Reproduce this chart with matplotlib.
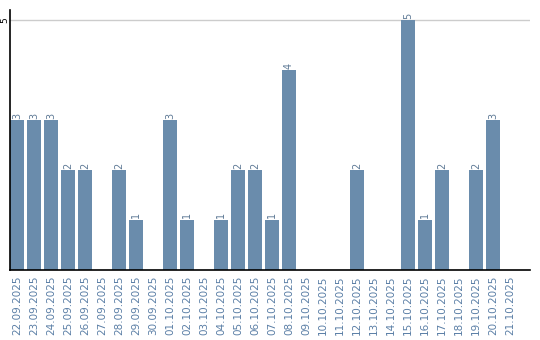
import matplotlib
matplotlib.use("Agg")
import matplotlib.pyplot as plt

dates = ["22.09.2025", "23.09.2025", "24.09.2025", "25.09.2025", "26.09.2025",
         "27.09.2025", "28.09.2025", "29.09.2025", "30.09.2025", "01.10.2025",
         "02.10.2025", "03.10.2025", "04.10.2025", "05.10.2025", "06.10.2025",
         "07.10.2025", "08.10.2025", "09.10.2025", "10.10.2025", "11.10.2025",
         "12.10.2025", "13.10.2025", "14.10.2025", "15.10.2025", "16.10.2025",
         "17.10.2025", "18.10.2025", "19.10.2025", "20.10.2025", "21.10.2025"]
values = [3, 3, 3, 2, 2, 0, 2, 1, 0, 3, 1, 0, 1, 2, 2, 1, 4, 0, 0, 0,
          2, 0, 0, 5, 1, 2, 0, 2, 3, 0]

bar_color = "#6a8cac"
label_color = "#5b7fa6"

fig = plt.figure(figsize=(5.4, 3.4), dpi=100)
ax = fig.add_axes([10/540, 70/340, 520/540, 260/340])

x = list(range(len(dates)))
ax.bar(x, values, width=14/17, color=bar_color, zorder=2)
for xi, v in zip(x, values):
    if v > 0:
        ax.text(xi, v + 0.03, str(v), rotation=90, ha="center", va="bottom",
                fontsize=7, color="#5f7a96")

ax.set_xlim(-7/17, (530-17)/17)
ax.set_ylim(0, 5.2)
ax.set_yticks([5])
ax.set_yticklabels(["5"], rotation=90, va="center", ha="center", fontsize=6.5)
ax.yaxis.grid(True, color="#cccccc", linewidth=1, zorder=0)
ax.tick_params(axis="y", length=0, pad=4)
ax.set_xticks(x)
ax.set_xticklabels(dates, rotation=90, fontsize=7.5, color=label_color)
ax.tick_params(axis="x", length=0, pad=4)

for s in ["top", "right"]:
    ax.spines[s].set_visible(False)
ax.spines["left"].set_linewidth(1.2)
ax.spines["bottom"].set_linewidth(1.2)

fig.savefig("out.png", dpi=100)
